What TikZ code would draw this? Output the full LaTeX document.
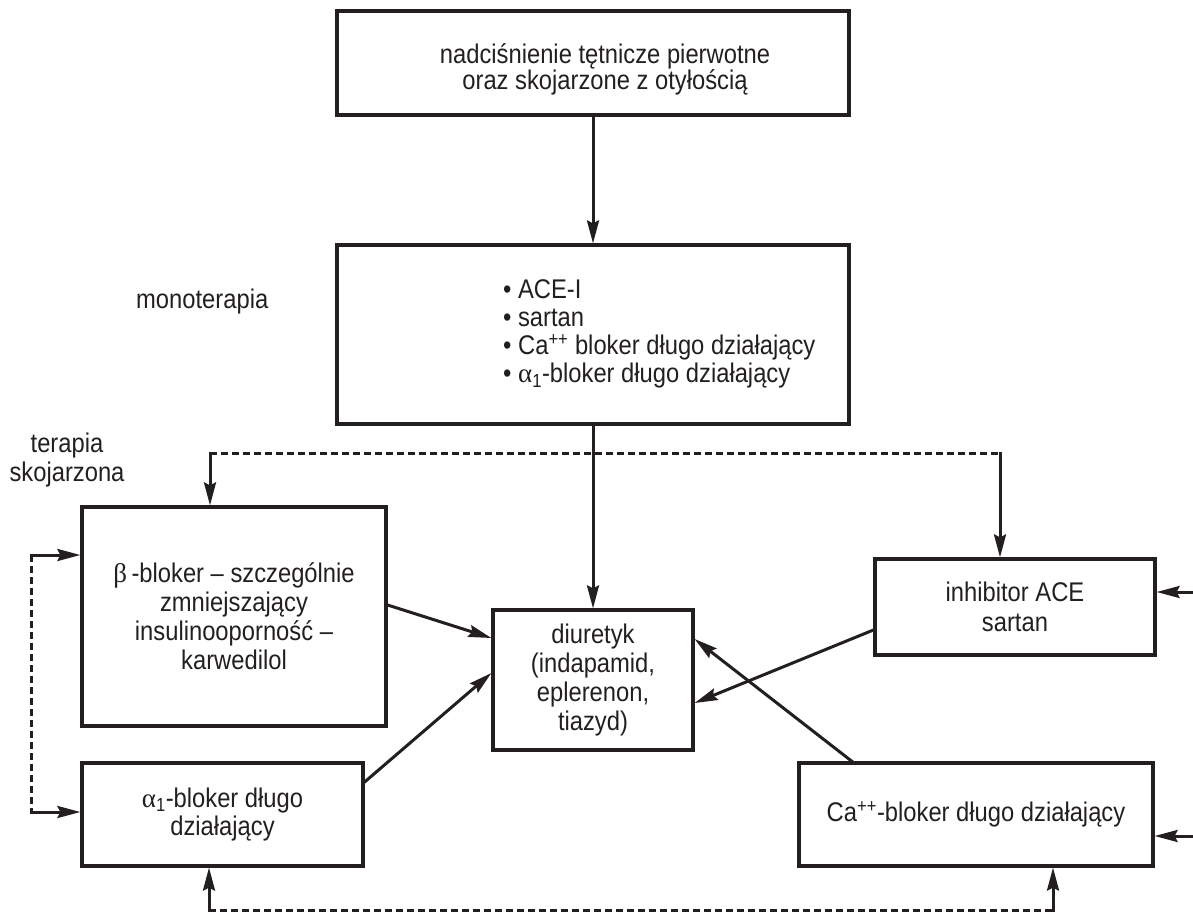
\documentclass[tikz,border=0pt]{standalone}
\usepackage{fontspec}
\setmainfont[FakeStretch=0.88]{Liberation Sans}
\newfontfamily\grk{Liberation Serif}
\usetikzlibrary{arrows.meta}
\definecolor{ink}{RGB}{35,31,32}
\newcommand{\alphaone}{{\grk α}\textsubscript{1}}
\begin{document}
\begin{tikzpicture}[x=1pt,y=-1pt,
  box/.style={draw=ink, line width=3.2pt, inner sep=0pt, align=center, text=ink},
  lbl/.style={inner sep=0pt, text=ink, align=center},
  conn/.style={draw=ink, line width=3pt},
  arr/.style={conn, line cap=rect, -{Stealth[length=23pt,width=12pt,inset=3pt]}},
  dashline/.style={conn, dash pattern=on 7pt off 4pt},
  fs/.style={font=\fontsize{27}{#1}\selectfont},
]
\useasboundingbox (0,0) rectangle (1193,913);

% boxes
\node[box, minimum width=512pt, minimum height=104pt] (top) at (593,63) {};
\node[lbl, fs=24.5] (topText) at (605,69.5) {nadciśnienie tętnicze pierwotne\\oraz skojarzone z otyłością};

\node[box, minimum width=512pt, minimum height=179pt] (mono) at (593,334.5) {};
\node[lbl, fs=28, align=left, anchor=west] (monoList) at (503,334)
  {\textbullet\ ACE-I\\\textbullet\ sartan\\\textbullet\ Ca\textsuperscript{++} bloker długo działający\\\textbullet\ \alphaone-bloker długo działający};

\node[box, fs=29, minimum width=304pt, minimum height=219pt] (beta) at (234,616.5)
  {{\grk β}\,-bloker – szczególnie\\zmniejszający\\insulinooporność –\\karwedilol};
\node[box, fs=28, minimum width=281pt, minimum height=103pt] (alpha) at (222.5,814.5)
  {\alphaone-bloker długo\\działający};
\node[box, fs=29, minimum width=200pt, minimum height=140pt] (diur) at (593,680)
  {diuretyk\\(indapamid,\\eplerenon,\\tiazyd)};
\node[box, fs=30, minimum width=280pt, minimum height=96pt] (ace) at (1015,607)
  {inhibitor ACE\\sartan};
\node[box, fs=29, minimum width=354pt, minimum height=103pt] (ca) at (976,814.5)
  {Ca\textsuperscript{++}-bloker długo działający};

% side labels
\node[lbl, fs=29, anchor=base west] (monoLabel) at (136,308) {monoterapia};
\node[lbl, fs=29] (comboLabel) at (67,460.5) {terapia\\skojarzona};

% corner points of the dashed feedback lines
\coordinate (dL) at (210,453);
\coordinate (dR) at (1000,453);
\coordinate (lT) at (31,555);
\coordinate (lB) at (31,812);
\coordinate (bL) at (209,910);
\coordinate (bR) at (1053,910);
\coordinate (rA) at (1193,592);
\coordinate (rC) at (1193,836);

% main flow
\draw[arr] (top) -- (mono);
\draw[arr] (mono.south) -- (diur.north);

% dashed links
\draw[dashline] (dL) -- (dR);
\draw[arr] (dL) -- (dL |- beta.north);
\draw[arr] (dR) -- (dR |- ace.north);
\draw[dashline] (lT) -- (lB);
\draw[arr] (lT) -- (lT -| beta.west);
\draw[arr] (lB) -- (lB -| alpha.west);
\draw[dashline] (bL) -- (bR);
\draw[arr] (bL) -- (bL |- alpha.south);
\draw[arr] (bR) -- (bR |- ca.south);

% inputs from the right
\draw[arr] (rA) -- (rA -| ace.east);
\draw[arr] (rC) -- (rC -| ca.east);

% combinations with the diuretic
\draw[arr] ([yshift=11.5pt]beta.east) -- ([yshift=42pt]diur.west);
\draw[arr] ([yshift=32.5pt]alpha.east) -- ([yshift=7pt]diur.west);
\draw[arr] ([yshift=-23pt]ace.west) -- ([yshift=-23pt]diur.east);
\draw[arr] ([xshift=-124pt]ca.north) -- ([yshift=41pt]diur.east);
\end{tikzpicture}
\end{document}
